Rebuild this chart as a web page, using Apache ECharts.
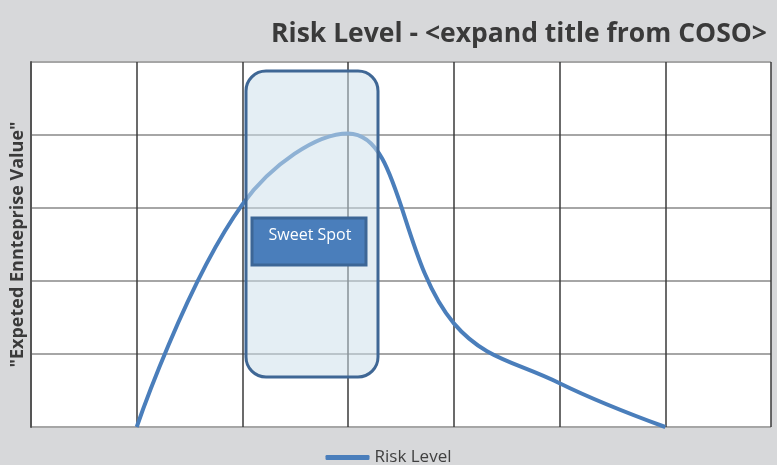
<!DOCTYPE html>
<html>
<head>
<meta charset="utf-8">
<script src="https://cdn.jsdelivr.net/npm/echarts@6/dist/echarts.min.js"></script>
<style>
  html, body { margin: 0; padding: 0; background: #d7d8da; }
  #main { width: 777px; height: 465px; }
</style>
</head>
<body>
<div id="main"></div>
<script>
// 数据
const xPositions = [1, 2, 3, 4, 5, 6]
const riskLevel = [0, 3.05, 4.02, 1.42, 0.6, 0]
const seriesName = 'Risk Level'

const myChart = echarts.init(document.getElementById('main'))

const option = {
  backgroundColor: '#d7d8da',
  title: {
    text: 'Risk Level - <expand title from COSO>',
    right: 5,
    top: 16,
    textStyle: {
      fontFamily: 'Open Sans',
      fontWeight: 'bold',
      fontSize: 26.5,
      color: '#3a3a3a',
    },
  },
  legend: {
    top: 444,
    left: 'center',
    data: [seriesName],
    icon: 'roundRect',
    itemWidth: 44,
    itemHeight: 5,
    itemGap: 10,
    textStyle: {
      fontFamily: 'Open Sans',
      fontSize: 17,
      color: '#404040',
    },
  },
  grid: {
    show: true,
    backgroundColor: '#ffffff',
    borderWidth: 0,
    left: 31,
    right: 6,
    top: 62,
    bottom: 38,
  },
  xAxis: {
    type: 'value',
    min: 0,
    max: 7,
    interval: 1,
    axisLabel: { show: false },
    axisTick: { show: false },
    axisLine: { show: false },
    splitLine: {
      show: true,
      lineStyle: { color: '#3a3a3a', width: 1.5 },
    },
  },
  yAxis: {
    type: 'value',
    min: 0,
    max: 5,
    interval: 1,
    name: '"Expeted Ennteprise Value"',
    nameLocation: 'middle',
    nameGap: 4,
    nameTextStyle: {
      fontFamily: 'Open Sans',
      fontWeight: 'bold',
      fontSize: 18,
      color: '#3a3a3a',
    },
    axisLabel: { show: false },
    axisTick: { show: false },
    axisLine: {
      show: true,
      lineStyle: { color: '#555', width: 2 },
    },
    splitLine: {
      show: true,
      lineStyle: { color: '#a6a6a6', width: 2 },
    },
  },
  series: [
    {
      name: seriesName,
      type: 'line',
      data: xPositions.map((x, i) => [x, riskLevel[i]]),
      smooth: 0.4,
      symbol: 'none',
      lineStyle: { color: '#4a7ebb', width: 4 },
      itemStyle: { color: '#4a7ebb' },
      z: 2,
    },
  ],
  graphic: [
    {
      // sweet spot 圆角框
      type: 'rect',
      z: 100,
      shape: { x: 246, y: 71, width: 132, height: 306, r: 20 },
      style: {
        fill: 'rgba(204,223,234,0.53)',
        stroke: '#3f6795',
        lineWidth: 3,
      },
    },
    {
      type: 'rect',
      z: 101,
      shape: { x: 252, y: 218, width: 114, height: 47 },
      style: {
        fill: '#4a7ebb',
        stroke: '#3c6696',
        lineWidth: 3,
      },
    },
    {
      type: 'text',
      z: 102,
      x: 310,
      y: 235,
      style: {
        text: 'Sweet Spot',
        fill: '#ffffff',
        font: '16px "Open Sans"',
        textAlign: 'center',
        textVerticalAlign: 'middle',
      },
    },
  ],
}

myChart.setOption(option, true)
</script>
</body>
</html>
